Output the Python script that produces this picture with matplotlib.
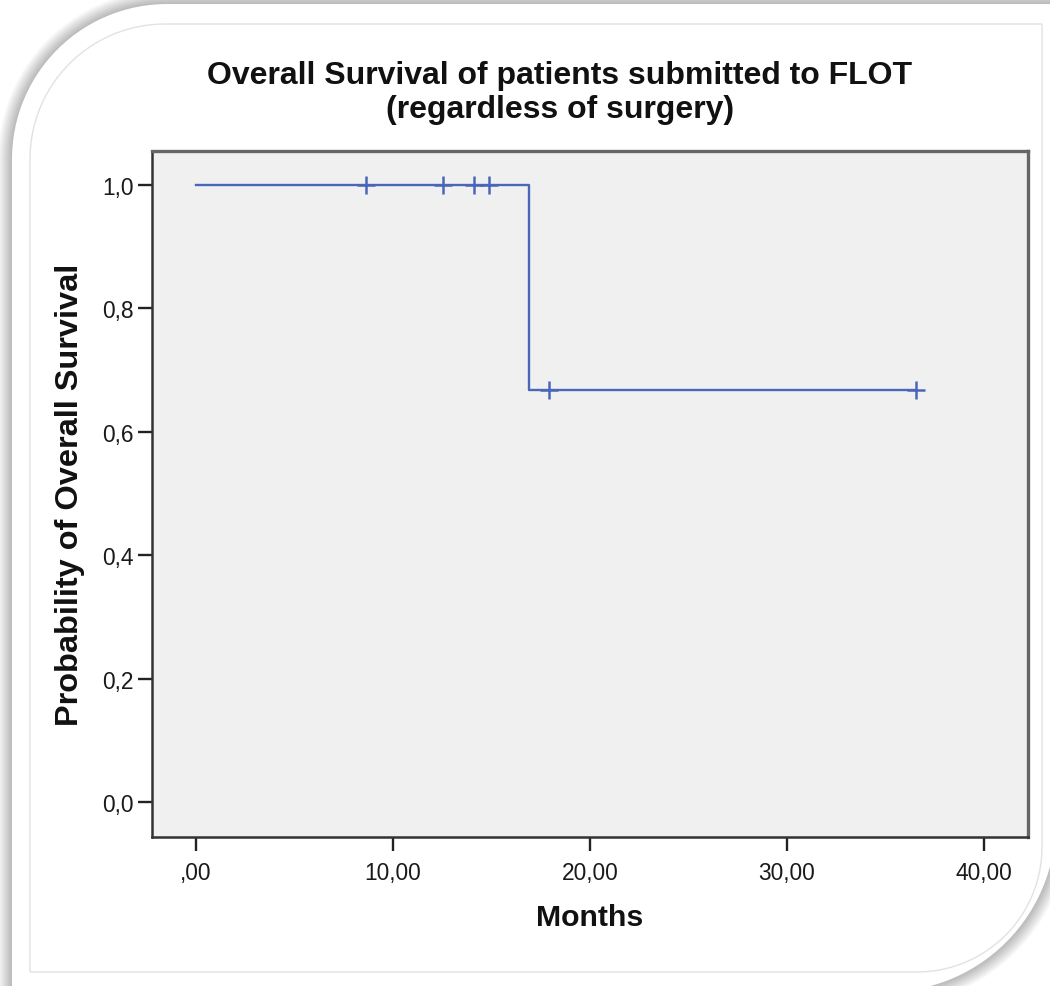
import numpy as np
import matplotlib
matplotlib.use("Agg")
import matplotlib.pyplot as plt
from matplotlib.path import Path
from matplotlib.patches import PathPatch
from matplotlib.ticker import FixedLocator, FuncFormatter

plt.rcParams['font.family'] = ['Liberation Sans', 'DejaVu Sans']

# ---- data ----
step_times = [0.0, 16.9, 36.55]
step_surv = [1.0, 0.667, 0.667]
censor_times = [8.63, 12.54, 14.11, 14.87, 17.92, 36.55]
censor_surv = [1.0, 1.0, 1.0, 1.0, 0.667, 0.667]
x_ticks = [0, 10, 20, 30, 40]
y_ticks = [0.0, 0.2, 0.4, 0.6, 0.8, 1.0]
title = "Overall Survival of patients submitted to FLOT\n(regardless of surgery)"
xlabel = "Months"
ylabel = "Probability of Overall Survival"

W, H = 1050, 987
fig = plt.figure(figsize=(W / 100, H / 100), dpi=100, facecolor='white')

# ---- decorative card background ----
bg = fig.add_axes([0, 0, 1, 1], zorder=-10)
bg.set_xlim(0, W)
bg.set_ylim(H, 0)
bg.axis('off')


def card(left, top, right, bottom, r1, r2):
    verts = []
    a = np.linspace(np.pi, 1.5 * np.pi, 30)
    cx, cy = left + r1, top + r1
    verts += list(zip(cx + r1 * np.cos(a), cy + r1 * np.sin(a)))
    verts.append((right, top))
    a = np.linspace(0, 0.5 * np.pi, 30)
    cx, cy = right - r2, bottom - r2
    verts += list(zip(cx + r2 * np.cos(a), cy + r2 * np.sin(a)))
    verts.append((left, bottom))
    verts.append(verts[0])
    return Path(verts, closed=True)


L, T, R, B = 12, 5, 1056, 993
for k in range(14, 0, -1):
    p = card(L - k, T - k, R + k, B + k, 155 + k, 170 + k)
    bg.add_patch(PathPatch(p, facecolor='black', edgecolor='none', alpha=0.018))
bg.add_patch(PathPatch(card(L, T, R, B, 155, 170), facecolor='white', edgecolor='none'))
bg.add_patch(PathPatch(card(30, 25, 1042, 973, 135, 125), facecolor='none',
                       edgecolor='#e2e2e2', lw=1.0))

# ---- plot ----
ax = fig.add_axes([152 / W, 1 - 838 / H, (1028 - 152) / W, (838 - 152) / H])
ax.set_facecolor('#f0f0f0')
ax.step(step_times, step_surv, where='post', color='#4a66b8', lw=1.7, zorder=3)
ax.plot(censor_times, censor_surv, linestyle='none', marker='+', markersize=12.5,
        markeredgewidth=1.8, color='#4a66b8', zorder=4)

ax.set_xlim(-2.23, 42.23)
ax.set_ylim(-0.0567, 1.055)
ax.xaxis.set_major_locator(FixedLocator(x_ticks))
ax.yaxis.set_major_locator(FixedLocator(y_ticks))


def xfmt(v, pos):
    s = f"{v:.2f}".replace('.', ',')
    return s[1:] if s.startswith('0') else s


ax.xaxis.set_major_formatter(FuncFormatter(xfmt))
ax.yaxis.set_major_formatter(FuncFormatter(lambda v, p: f"{v:.1f}".replace('.', ',')))
ax.tick_params(axis='both', direction='out', length=10, width=1.7, color='#222222',
               labelsize=16.4, labelcolor='#1a1a1a', pad=3)
ax.tick_params(axis='x', pad=7)

for side in ['left', 'bottom']:
    ax.spines[side].set_color('#333333')
    ax.spines[side].set_linewidth(1.8)
for side in ['top', 'right']:
    ax.spines[side].set_color('#666666')
    ax.spines[side].set_linewidth(2.4)

fig.text(560 / W, 1 - 93 / H, title, ha='center', va='center', fontsize=23,
         fontweight='bold', color='#111111', linespacing=1.2)
fig.text(590 / W, 1 - 918 / H, xlabel, ha='center', va='center', fontsize=21.8,
         fontweight='bold', color='#111111')
fig.text(70 / W, 1 - 495 / H, ylabel, ha='center', va='center', rotation=90,
         fontsize=23.4, fontweight='bold', color='#111111')

fig.savefig('out.png', dpi=100, facecolor='white')
